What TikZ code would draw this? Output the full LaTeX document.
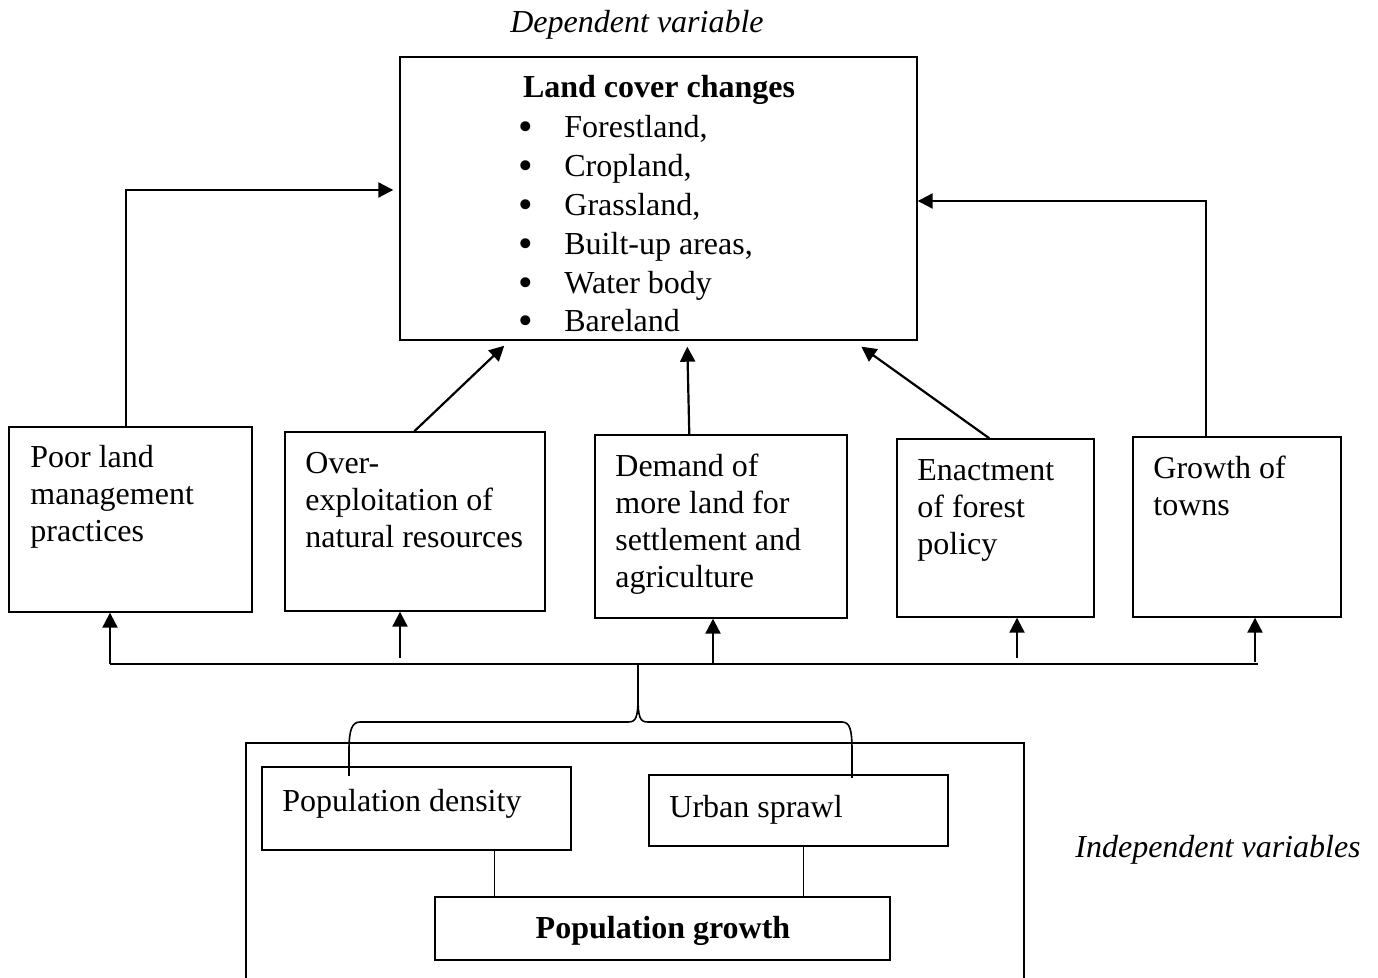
\documentclass[tikz,border=0pt]{standalone}
\usepackage{graphicx}
\usepackage{fontspec}
\setmainfont{Liberation Serif}
\usetikzlibrary{arrows.meta,calc}
\newcommand\lcbullet{\makebox[23pt][l]{\raisebox{-0.09em}{\scalebox{1.3}{\textbullet}}}}
\newcommand\lines[1]{\begin{tabular}[t]{@{}l@{}}#1\end{tabular}}
\begin{document}
\begin{tikzpicture}[x=0.5pt,y=-0.5pt,
  box/.style={draw,line width=0.7pt,inner sep=0pt},
  txt/.style={anchor=base west,inner sep=0pt,font=\fontsize{16}{18.5}\selectfont},
  arr/.style={line width=1.1pt,-{Triangle[length=7.5pt,width=7.5pt]}},
  bus/.style={line width=0.9pt},
  link/.style={line width=0.6pt},
  brace/.style={line width=0.8pt},
  note/.style={inner sep=0pt,font=\fontsize{16}{19}\selectfont\itshape}]
\useasboundingbox (0,0) rectangle (1378,978);

% dependent variable
\node[box,minimum width=258.5pt,minimum height=141.5pt] (top) at (658.5,198.5) {};
\node[anchor=base,inner sep=0pt,font=\fontsize{16}{19.4}\selectfont\bfseries] (title) at (659,98) {Land cover changes};
\node[anchor=base west,inner sep=0pt,font=\fontsize{16}{19.4}\selectfont] (list) at (518,138)
  {\lines{\lcbullet Forestland,\\ \lcbullet Cropland,\\ \lcbullet Grassland,\\ \lcbullet Built-up areas,\\ \lcbullet Water body\\ \lcbullet Bareland}};
\node[note,anchor=base] (dep) at (637,33) {Dependent variable};

% intermediate factors
\node[box,minimum width=121.5pt,minimum height=92.5pt] (b1) at (130.5,519.5) {};
\node[box,minimum width=130pt,minimum height=89.5pt] (b2) at (415,521.5) {};
\node[box,minimum width=126pt,minimum height=91.5pt] (b3) at (721,526.5) {};
\node[box,minimum width=98.5pt,minimum height=89pt] (b4) at (995.5,528) {};
\node[box,minimum width=104pt,minimum height=90pt] (b5) at (1237,527) {};
\node[txt] (t1) at (30,468) {\lines{Poor land\\management\\practices}};
\node[txt] (t2) at (305,474) {\lines{Over-\\exploitation of\\natural resources}};
\node[txt] (t3) at (615,477) {\lines{Demand of\\more land for\\settlement and\\agriculture}};
\node[txt] (t4) at (917,481) {\lines{Enactment\\of forest\\policy}};
\node[txt] (t5) at (1153,479) {\lines{Growth of\\towns}};

% arrows into the land cover box
\draw[arr,shorten >=3pt] ([xshift=-2.25pt]b1.north) |- ([yshift=4.25pt]top.west);
\draw[arr] ([xshift=-15.5pt]b5.north) |- ([yshift=-1.25pt]top.east);
\draw[arr] ($(b2.north west)+(130,0)$) -- ($(top.south west)+(105,5)$);
\draw[arr] ($(b3.north west)+(95,0)$) -- ($(top.south west)+(288,6)$);
\draw[arr] ($(b4.north west)+(93,0)$) -- ($(top.south west)+(462,6)$);

% distribution bus
\coordinate (busL) at (110,664);
\coordinate (busR) at (1258,664);
\coordinate (u2) at (400,658);
\coordinate (u3) at (713,664);
\coordinate (u4) at (1017,658);
\coordinate (u5) at (1255,662);
\draw[bus] (busL) -- (busR);
\draw[arr] (busL) -- (busL |- b1.south);
\draw[arr] (u2) -- (u2 |- b2.south);
\draw[arr] (u3) -- (u3 |- b3.south);
\draw[arr] (u4) -- (u4 |- b4.south);
\draw[arr] (u5) -- (u5 |- b5.south);

% independent variables
\draw[box] (246,978) -- (246,743) -- (1024,743) -- (1024,978);
\node[box,minimum width=154.5pt,minimum height=41.5pt] (pd) at (416.5,808.5) {};
\node[box,minimum width=149.5pt,minimum height=35.5pt] (us) at (798.5,810.5) {};
\node[box,minimum width=227.5pt,minimum height=31.5pt] (pg) at (662.5,928.5) {};
\node[txt] (tpd) at (282,812) {Population density};
\node[txt] (tus) at (669,818) {Urban sprawl};
\node[anchor=base,inner sep=0pt,font=\fontsize{16}{18.5}\selectfont\bfseries] (tpg) at (663,938) {Population growth};
\coordinate (pdl) at ($(pd.south west)+(233,0)$);
\coordinate (usl) at ($(us.south west)+(155,0)$);
\draw[link] (pdl) -- (pdl |- pg.north);
\draw[link] (usl) -- (usl |- pg.north);
\node[note,anchor=base west] (indep) at (1075,857) {Independent variables};

% brace joining the two drivers
\coordinate (bt) at (638,664);
\draw[brace] (bt) -- (638,696) .. controls (638,718) and (636,722) .. (628,722) -- (360,722)
  .. controls (352,722) and (349,730) .. (349,750) -- (349,776);
\draw[brace] (638,696) .. controls (638,718) and (640,722) .. (648,722) -- (842,722)
  .. controls (850,722) and (852,730) .. (852,750) -- (852,778);
\end{tikzpicture}
\end{document}
